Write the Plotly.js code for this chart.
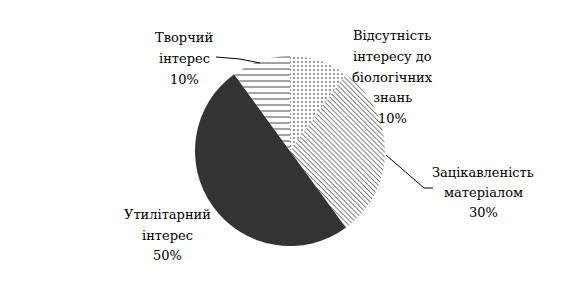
<!DOCTYPE html>
<html><head><meta charset="utf-8">
<script src="https://cdn.plot.ly/plotly-3.0.1.min.js"></script>
<style>html,body{margin:0;padding:0;background:#fff}#c{width:580px;height:306px}</style>
</head><body><div id="c"></div>
<script>
const categories = ["Відсутність<br>інтересу до<br>біологічних<br>знань", "Зацікавленість<br>матеріалом", "Утилітарний<br>інтерес", "Творчий<br>інтерес"];
const values = [10, 30, 50, 10];
const patternShapes = [".", "\\", "", "-"];
const fillColors = ["#ffffff", "#ffffff", "#333333", "#ffffff"];

const W = 580, H = 306;
const px = (x) => x / W, py = (y) => 1 - y / H;

// label line placement (centre x, first line y, line gap) in pixels
const labelPos = [
  {x: 392, y: 35, gap: 21},
  {x: 483, y: 172, gap: 20},
  {x: 167, y: 215, gap: 20},
  {x: 184, y: 37, gap: 21.5}
];

const annotations = [];
categories.forEach((c, i) => {
  const lines = c.split("<br>").concat([values[i] + "%"]);
  lines.forEach((t, j) => {
    annotations.push({
      text: t, showarrow: false, xref: "paper", yref: "paper",
      x: px(labelPos[i].x), y: py(labelPos[i].y + j * labelPos[i].gap),
      xanchor: "center", yanchor: "middle",
      font: {family: "'DejaVu Serif', serif", size: 13, color: "#000"}
    });
  });
});

const shapes = [
  {type: "path", xref: "paper", yref: "paper",
   path: `M ${px(216)} ${py(57)} L ${px(240)} ${py(59)} L ${px(260)} ${py(63)}`,
   line: {color: "#000", width: 1}},
  {type: "path", xref: "paper", yref: "paper",
   path: `M ${px(386)} ${py(155)} L ${px(424)} ${py(188)} L ${px(433)} ${py(188)}`,
   line: {color: "#000", width: 1}}
];

const cx = 290, cy = 151, r = 95;
const data = [{
  type: "pie", values: values, labels: categories,
  sort: false, direction: "clockwise", rotation: 0,
  textinfo: "none", hoverinfo: "none",
  domain: {x: [px(cx - r), px(cx + r)], y: [py(cy + r), py(cy - r)]},
  marker: {
    colors: fillColors,
    line: {width: 0},
    pattern: {shape: patternShapes, fgcolor: "#000", bgcolor: fillColors, size: [4, 3.5, 4, 6], solidity: [0.1, 0.2, 0.3, 0.12]}
  }
}];

const layout = {
  width: W, height: H, margin: {l: 0, r: 0, t: 0, b: 0},
  paper_bgcolor: "#fff", plot_bgcolor: "#fff", showlegend: false,
  annotations: annotations, shapes: shapes
};
Plotly.newPlot("c", data, layout, {displayModeBar: false, staticPlot: true});
</script></body></html>
